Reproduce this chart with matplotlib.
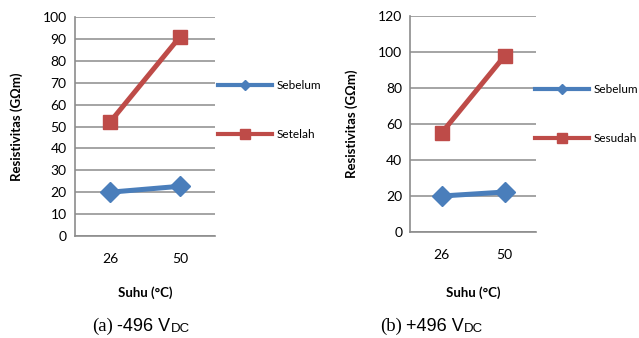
import matplotlib
matplotlib.use("Agg")
import matplotlib.pyplot as plt

categories = ["26", "50"]
left_sebelum = [20, 22.7]
left_setelah = [52, 91]
right_sebelum = [20, 22.2]
right_sesudah = [55.2, 97.8]
left_yticks = list(range(0, 101, 10))
right_yticks = list(range(0, 121, 20))

BLUE = "#4A7EBB"
RED = "#BE4B48"
GRID = "#8C8C8C"
W, H = 639, 338

fig = plt.figure(figsize=(W / 100, H / 100), dpi=100)
tickfont = "Lato"


def make_panel(rect_px, yticks, s1, s2, names, leg_px, ylab_x):
    l, t, r, b = rect_px
    ax = fig.add_axes([l / W, 1 - b / H, (r - l) / W, (b - t) / H])
    x = list(range(len(categories)))
    ax.plot(x, s1, color=BLUE, lw=3.6, marker="D", ms=10.5, label=names[0], zorder=3)
    ax.plot(x, s2, color=RED, lw=3.6, marker="s", ms=10.5, label=names[1], zorder=3)
    ax.set_xlim(-0.5, len(categories) - 0.5)
    ax.set_ylim(yticks[0], yticks[-1])
    ax.set_yticks(yticks)
    ax.set_xticks(x)
    ax.set_xticklabels(categories)
    ax.yaxis.grid(True, color=GRID, lw=1.1)
    ax.set_axisbelow(True)
    for s in ("top", "right"):
        ax.spines[s].set_visible(False)
    for s in ("left", "bottom"):
        ax.spines[s].set_color(GRID)
        ax.spines[s].set_linewidth(1.2)
    ax.tick_params(length=0, labelsize=10, pad=6)
    ax.tick_params(axis="x", pad=12)
    for lab in ax.get_xticklabels() + ax.get_yticklabels():
        lab.set_family(tickfont)
    ax.set_ylabel("Resistivitas (GΩm)", fontsize=9.5, fontweight="bold", family=tickfont)
    ax.yaxis.set_label_coords((ylab_x - l) / (r - l), 0.5)
    ax.set_xlabel("Suhu (°C)", fontsize=9.5, fontweight="bold", family=tickfont)
    ax.xaxis.set_label_coords(0.5, -(293 - b) / (b - t))
    ax.xaxis.label.set_va("center")
    h, lab = ax.get_legend_handles_labels()
    leg = ax.legend(h, lab, loc="center left",
                    bbox_to_anchor=(leg_px[0] / W, 1 - leg_px[1] / H),
                    bbox_transform=fig.transFigure, frameon=False,
                    borderpad=0, borderaxespad=0, handlelength=4.6,
                    handletextpad=0.35, labelspacing=3.2,
                    prop={"family": tickfont, "size": 8.5})
    lh = leg.legend_handles
    lh[0].set_markersize(5.5)
    lh[1].set_markersize(7.5)
    for hh in lh:
        hh.set_linewidth(3)
    return ax


axL = make_panel((75, 17, 215, 236), left_yticks, left_sebelum, left_setelah,
                 ["Sebelum", "Setelah"], (218, 110), 23)
axR = make_panel((410.5, 16, 536, 232), right_yticks, right_sebelum, right_sesudah,
                 ["Sebelum", "Sesudah"], (535, 114), 358)


def caption(x_px, y_px, prefix, body):
    t1 = fig.text(x_px / W, 1 - y_px / H, prefix, family="Liberation Serif",
                  fontsize=13.5, va="baseline", ha="left")
    fig.canvas.draw()
    bb = t1.get_window_extent()
    t2 = fig.text((bb.x1 + 4) / W, 1 - y_px / H, body, family="Liberation Sans",
                  fontsize=13, va="baseline", ha="left")
    fig.canvas.draw()
    bb2 = t2.get_window_extent()
    fig.text((bb2.x1 + 0.5) / W, 1 - (y_px + 1) / H, "DC", family="Liberation Sans",
             fontsize=9.5, va="baseline", ha="left")


caption(92, 331, "(a)", "-496 V")
caption(380, 331, "(b)", "+496 V")

fig.savefig("out.png", dpi=100)
